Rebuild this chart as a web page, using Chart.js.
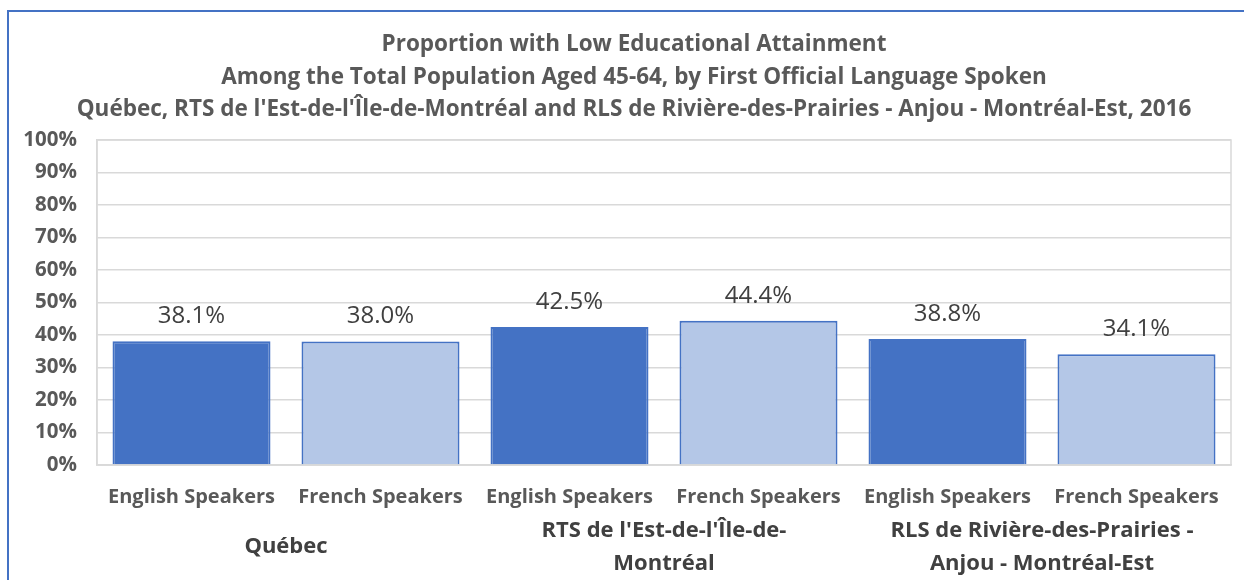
<!DOCTYPE html>
<html>
<head>
<meta charset="utf-8">
<script src="https://cdn.jsdelivr.net/npm/chart.js@4"></script>
<style>
  html, body { margin: 0; padding: 0; background: #fff; }
  #wrap { position: relative; width: 1244px; height: 580px; overflow: hidden; }
  #frame { position: absolute; left: 7px; top: 10px; width: 1400px; height: 700px;
           border-left: 2px solid #4472C4; border-top: 2px solid #4472C4; }
  canvas { position: absolute; left: 0; top: 0; }
</style>
</head>
<body>
<div id="wrap">
  <div id="frame"></div>
  <canvas id="chart" width="1244" height="580"></canvas>
</div>
<script>
// données
const titleLines = [
  "Proportion with Low Educational Attainment",
  "Among the Total Population Aged 45-64, by First Official Language Spoken",
  "Québec, RTS de l'Est-de-l'Île-de-Montréal and RLS de Rivière-des-Prairies - Anjou - Montréal-Est, 2016"
];
const languages = ["English Speakers", "French Speakers", "English Speakers", "French Speakers", "English Speakers", "French Speakers"];
const regions = [
  ["Québec"],
  ["RTS de l'Est-de-l'Île-de-", "Montréal"],
  ["RLS de Rivière-des-Prairies -", "Anjou - Montréal-Est"]
];
const values = [38.1, 38.0, 42.5, 44.4, 38.8, 34.1];
const yTicks = [0, 10, 20, 30, 40, 50, 60, 70, 80, 90, 100];

const DARK = '#4472C4';
const LIGHT = '#B4C7E7';
const GRID = '#d9d9d9';
const FONT = "'Open Sans'";

// titre, étiquettes de valeurs, noms de régions, cadre du graphique
const extras = {
  id: 'extras',
  beforeDatasetsDraw(chart) {
    const { ctx, chartArea: a } = chart;
    ctx.save();
    ctx.strokeStyle = GRID;
    ctx.lineWidth = 1.5;
    ctx.strokeRect(a.left, a.top, a.right - a.left, a.bottom - a.top);
    ctx.restore();
  },
  afterDatasetsDraw(chart) {
    const ctx = chart.ctx;
    const a = chart.chartArea;
    const meta = chart.getDatasetMeta(0);
    ctx.save();
    ctx.textAlign = 'center';
    ctx.textBaseline = 'middle';

    // titre (centré sur le cadre, pas sur le canvas)
    ctx.font = 'bold 22.5px ' + FONT;
    ctx.fillStyle = '#595959';
    titleLines.forEach((t, i) => {
      ctx.fillText(t, 634, a.top - 95 + i * 32.5);
    });

    ctx.font = '24px ' + FONT;
    ctx.fillStyle = '#404040';
    meta.data.forEach((bar, i) => {
      ctx.fillText(values[i].toFixed(1) + '%', bar.x, bar.y - 25);
    });

    const x = chart.scales.x;
    ctx.font = 'bold 22px ' + FONT;
    ctx.fillStyle = '#404040';
    regions.forEach((lines, gi) => {
      const cx = (x.getPixelForValue(gi * 2) + x.getPixelForValue(gi * 2 + 1)) / 2;
      const lh = 33;
      const mid = a.bottom + 82;
      lines.forEach((t, li) => {
        const y = mid + (li - (lines.length - 1) / 2) * lh;
        ctx.fillText(t, cx, y);
      });
    });
    ctx.restore();
  }
};

new Chart(document.getElementById('chart'), {
  type: 'bar',
  data: {
    labels: languages,
    datasets: [{
      data: values,
      backgroundColor: values.map((v, i) => i % 2 === 0 ? DARK : LIGHT),
      borderColor: DARK,
      borderWidth: 2,
      categoryPercentage: 1,
      barPercentage: 0.836
    }]
  },
  options: {
    responsive: false,
    animation: false,
    layout: { padding: { top: 140, right: 13, left: 0, bottom: 0 } },
    plugins: {
      legend: { display: false },
      tooltip: { enabled: false },
      title: { display: false }
    },
    scales: {
      x: {
        grid: { display: false },
        border: { display: true, color: GRID, width: 1.5 },
        ticks: {
          color: '#595959',
          font: { family: FONT, size: 20, weight: 'bold' },
          padding: 12,
          maxRotation: 0,
          autoSkip: false
        },
        afterFit(s) { s.height = 115; }
      },
      y: {
        min: 0,
        max: 100,
        afterBuildTicks(s) { s.ticks = yTicks.map(v => ({ value: v })); },
        grid: { color: GRID, lineWidth: 1.5, drawTicks: false },
        border: { display: true, color: GRID, width: 1.5 },
        ticks: {
          color: '#595959',
          font: { family: FONT, size: 20.5, weight: 'bold' },
          padding: 20,
          callback: v => v + '%'
        },
        afterFit(s) { s.width = 97; }
      }
    }
  },
  plugins: [extras]
});
</script>
</body>
</html>
